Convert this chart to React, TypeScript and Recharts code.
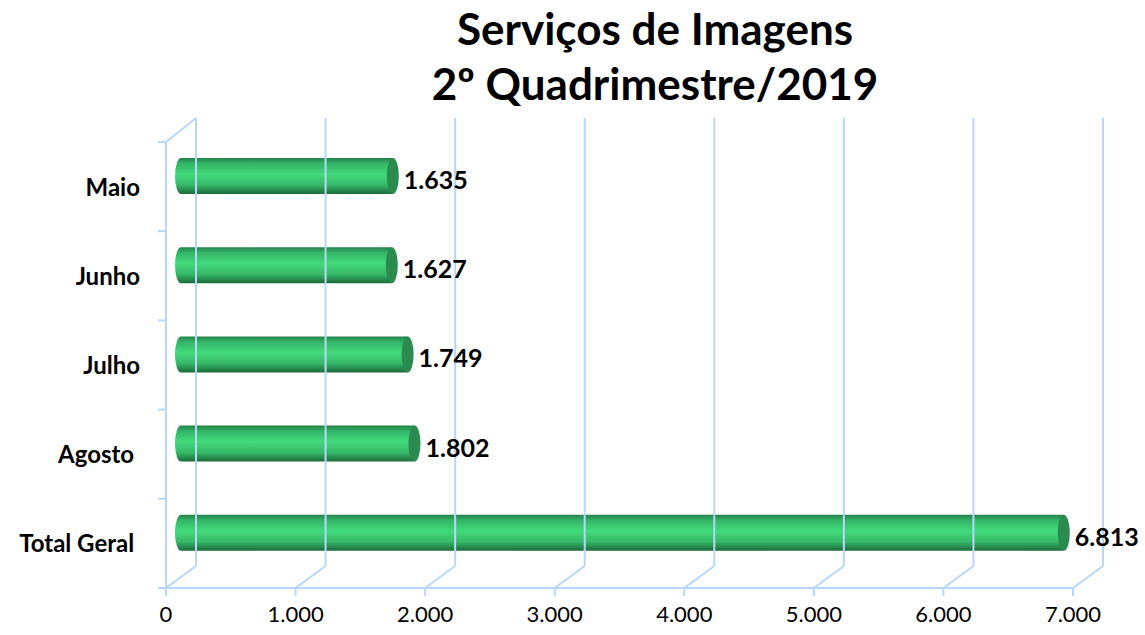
import React from 'react';
import { BarChart, Bar, XAxis, YAxis, LabelList } from 'recharts';

const categories = ['Maio', 'Junho', 'Julho', 'Agosto ', 'Total Geral '];
const values = [1635, 1627, 1749, 1802, 6813];
const xTicks = [0, 1000, 2000, 3000, 4000, 5000, 6000, 7000];
const titleLines = ['Serviços de Imagens', '2º Quadrimestre/2019'];

const data = categories.map((c, i) => ({ name: c, value: values[i] }));

const W = 1145;
const H = 635;
const M = { top: 142, right: 72, bottom: 0, left: 0 };
const Y_AXIS_W = 166;
const X_AXIS_H = 47;
const PLOT_TOP = M.top;
const PLOT_BOTTOM = H - M.bottom - X_AXIS_H;
const DX = 30;
const DY = 22;
const GRID = '#b7d6fb';
const HALF_BAND = (PLOT_BOTTOM - PLOT_TOP) / categories.length / 2;
const FONT = 'Lato, "Open Sans", sans-serif';

const fmt = (v: number) => v.toLocaleString('de-DE');

const XTick = (props: any) => {
  const { payload, index } = props;
  const x = payload.coordinate;
  const yb = PLOT_BOTTOM;
  return (
    <g>
      <line x1={x} y1={yb} x2={x + DX} y2={yb - DY} stroke={GRID} strokeWidth={2} />
      <line x1={x + DX} y1={yb - DY} x2={x + DX} y2={PLOT_TOP - DY - 2} stroke={GRID} strokeWidth={2} />
      {index === 0 && (
        <line x1={x} y1={PLOT_TOP} x2={x + DX} y2={PLOT_TOP - DY - 2} stroke={GRID} strokeWidth={2} />
      )}
      <line x1={x} y1={yb} x2={x} y2={yb + 8} stroke={GRID} strokeWidth={2} />
      <text x={x} y={yb + 34} textAnchor="middle" fontFamily={FONT} fontSize={22} fill="#000">
        {fmt(payload.value)}
      </text>
    </g>
  );
};

const YTick = (props: any) => {
  const { payload, index } = props;
  const y = payload.coordinate;
  const ax = Y_AXIS_W;
  return (
    <g>
      <line x1={ax - 8} y1={y - HALF_BAND} x2={ax} y2={y - HALF_BAND} stroke={GRID} strokeWidth={2} />
      {index === categories.length - 1 && (
        <line x1={ax - 8} y1={y + HALF_BAND} x2={ax} y2={y + HALF_BAND} stroke={GRID} strokeWidth={2} />
      )}
      <text
        x={140}
        y={y + 9}
        textAnchor="end"
        fontFamily={FONT}
        fontWeight="bold"
        fontSize={24}
        fill="#000"
        style={{ whiteSpace: 'pre' }}
      >
        {payload.value}
      </text>
    </g>
  );
};

const Cylinder = (props: any) => {
  const { x, y, width, height } = props;
  const x0 = x + DX / 2;
  const y0 = y - DY / 2;
  const x1 = x0 + width;
  const rx = 6;
  const ry = height / 2;
  const d = `M ${x0} ${y0} L ${x1} ${y0} L ${x1} ${y0 + height} L ${x0} ${y0 + height} A ${rx} ${ry} 0 0 1 ${x0} ${y0} Z`;
  return (
    <g>
      <path d={d} fill="url(#cylGrad)" />
      <ellipse cx={x1} cy={y0 + ry} rx={rx} ry={ry} fill="#2a8a50" />
    </g>
  );
};

const ValueLabel = (props: any) => {
  const { x, y, width, height, value } = props;
  return (
    <text
      x={x + width + DX / 2 + 11}
      y={y - DY / 2 + height / 2 + 13}
      fontFamily={FONT}
      fontWeight="bold"
      fontSize={25}
      fill="#000"
    >
      {fmt(value)}
    </text>
  );
};

export default function App() {
  return (
    <div style={{ position: 'absolute', left: 0, top: 0, width: W, height: H, background: '#fff' }}>
      <BarChart width={W} height={H} data={data} layout="vertical" margin={M} barSize={36}>
        <defs>
          <linearGradient id="cylGrad" x1="0" y1="0" x2="0" y2="1">
            <stop offset="0%" stopColor="#23804a" />
            <stop offset="15%" stopColor="#33b466" />
            <stop offset="45%" stopColor="#42da7c" />
            <stop offset="75%" stopColor="#36b868" />
            <stop offset="100%" stopColor="#1b6a3a" />
          </linearGradient>
        </defs>
        <text x={655} y={45} textAnchor="middle" fontFamily={FONT} fontWeight="bold" fontSize={44} fill="#000">
          {titleLines[0]}
        </text>
        <text x={655} y={100} textAnchor="middle" fontFamily={FONT} fontWeight="bold" fontSize={44} fill="#000">
          {titleLines[1]}
        </text>
        <XAxis
          type="number"
          domain={[0, 7000]}
          ticks={xTicks}
          interval={0}
          height={X_AXIS_H}
          axisLine={{ stroke: GRID, strokeWidth: 2 }}
          tickLine={false}
          tick={<XTick />}
        />
        <YAxis
          type="category"
          dataKey="name"
          width={Y_AXIS_W}
          axisLine={{ stroke: GRID, strokeWidth: 2 }}
          tickLine={false}
          tick={<YTick />}
          interval={0}
        />
        <Bar dataKey="value" shape={<Cylinder />} isAnimationActive={false}>
          <LabelList dataKey="value" content={<ValueLabel />} />
        </Bar>
      </BarChart>
    </div>
  );
}
